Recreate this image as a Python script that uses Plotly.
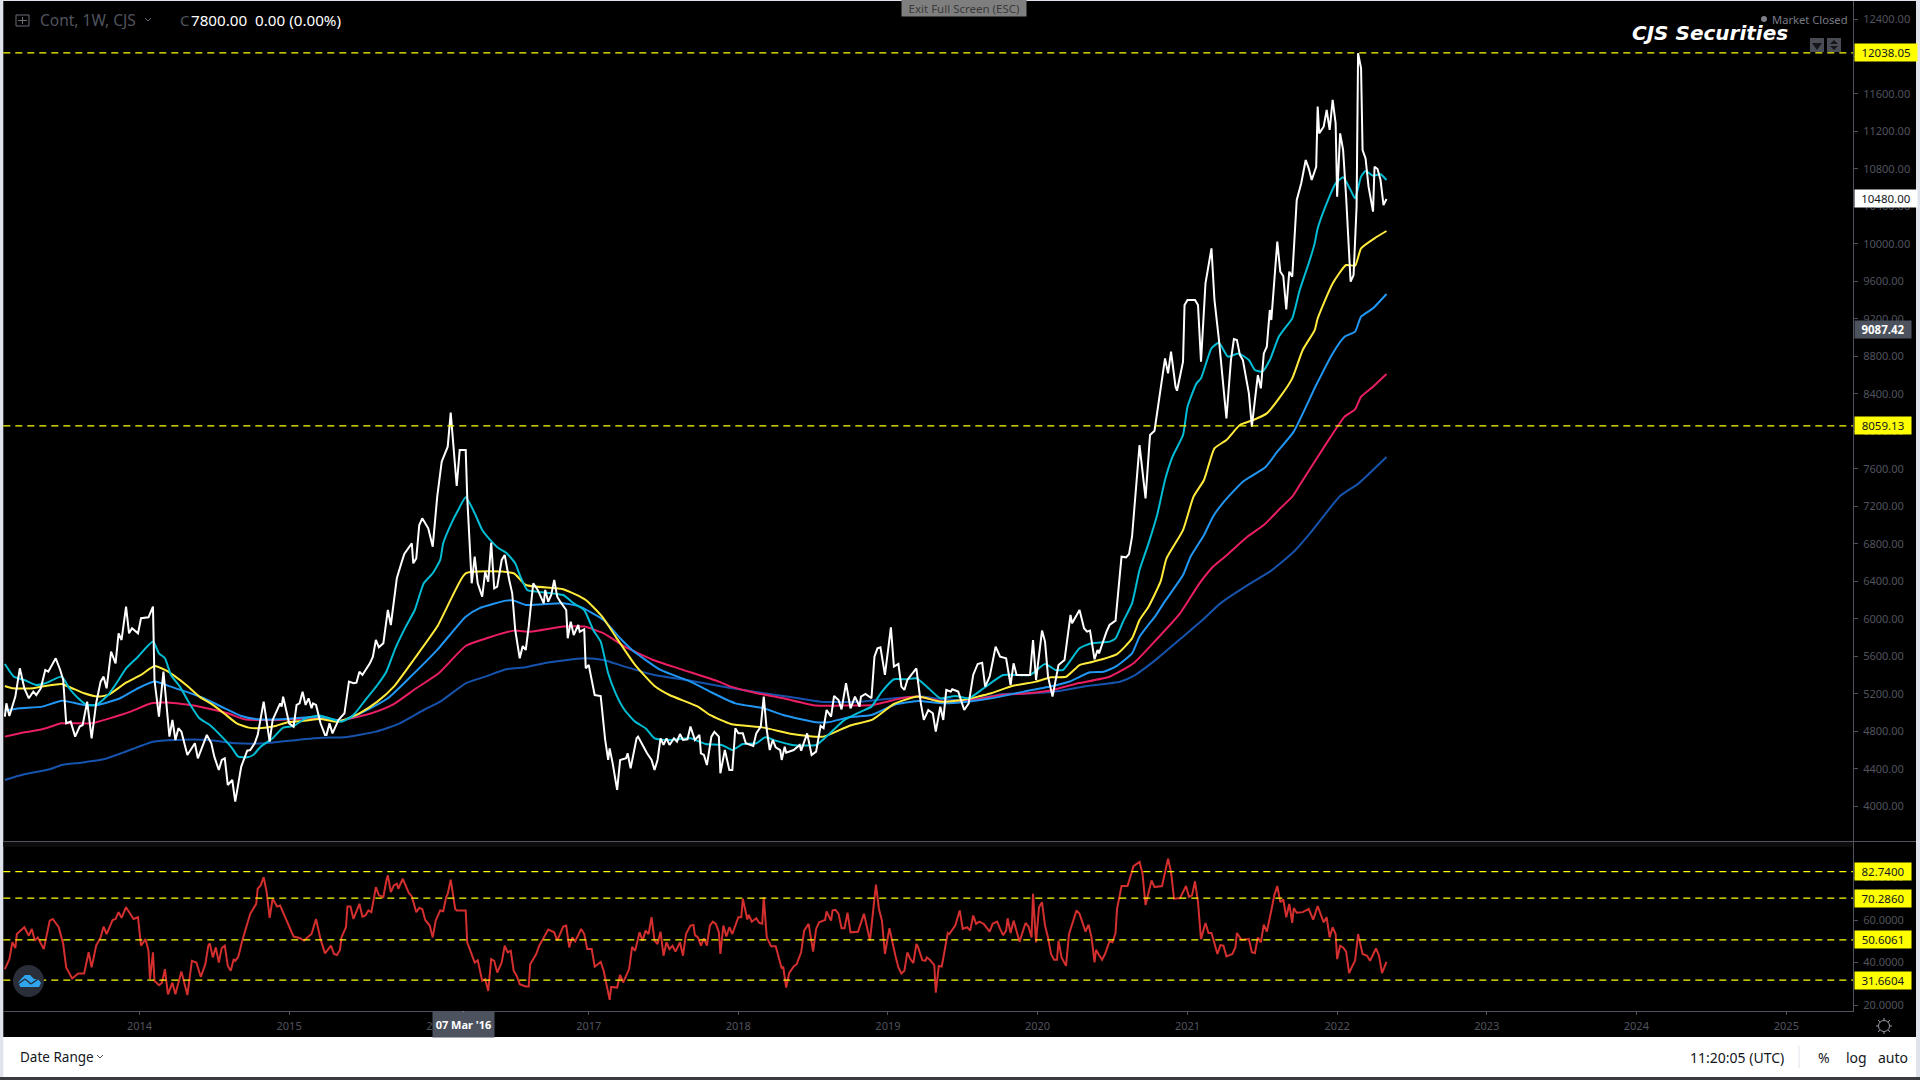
import plotly.graph_objects as go
import pandas as pd

W, H = 1920, 1080

close_years = [2013.10,2013.11,2013.13,2013.17,2013.20,2013.23,2013.26,2013.29,2013.31,2013.34,2013.37,2013.39,2013.44,2013.47,2013.49,2013.51,2013.54,2013.57,2013.60,2013.62,2013.65,2013.68,2013.71,2013.74,2013.76,2013.78,2013.81,2013.84,2013.86,2013.88,2013.91,2013.93,2013.95,2013.99,2014.01,2014.06,2014.09,2014.10,2014.13,2014.16,2014.20,2014.22,2014.24,2014.26,2014.28,2014.32,2014.37,2014.39,2014.45,2014.48,2014.50,2014.53,2014.55,2014.57,2014.59,2014.62,2014.64,2014.68,2014.72,2014.74,2014.77,2014.79,2014.83,2014.87,2014.89,2014.94,2014.95,2014.96,2015.00,2015.03,2015.05,2015.07,2015.09,2015.11,2015.13,2015.15,2015.16,2015.18,2015.21,2015.24,2015.25,2015.27,2015.29,2015.33,2015.37,2015.40,2015.43,2015.45,2015.47,2015.49,2015.54,2015.56,2015.58,2015.60,2015.63,2015.66,2015.68,2015.72,2015.75,
2015.77,2015.82,2015.83,2015.85,2015.87,2015.89,2015.93,2015.96,2015.99,2016.02,2016.06,2016.08,2016.12,2016.14,2016.18,2016.19,2016.21,2016.22,2016.24,2016.26,2016.29,2016.31,2016.33,2016.35,2016.37,2016.39,2016.42,2016.44,2016.47,2016.49,2016.51,2016.53,2016.54,2016.56,2016.58,2016.60,2016.62,2016.63,2016.66,2016.70,2016.71,2016.73,2016.75,2016.77,2016.79,2016.81,2016.85,2016.86,2016.88,2016.90,2016.93,2016.94,2016.97,2016.98,2017.00,2017.02,2017.04,2017.08,2017.11,2017.13,2017.14,2017.16,2017.19,2017.21,2017.25,2017.26,2017.28,2017.32,
2017.33,2017.36,2017.39,2017.42,2017.44,2017.46,2017.48,2017.50,2017.52,2017.54,2017.57,2017.59,2017.61,2017.63,2017.66,2017.68,2017.71,2017.74,2017.75,2017.77,2017.79,2017.82,2017.84,2017.87,2017.88,2017.91,2017.94,2017.96,2017.98,2018.00,2018.03,2018.05,2018.10,2018.12,2018.15,2018.17,2018.19,2018.21,2018.23,2018.25,2018.28,2018.29,2018.31,2018.32,2018.37,2018.41,2018.42,2018.46,2018.49,2018.52,2018.55,2018.57,2018.59,2018.62,2018.64,2018.67,2018.69,2018.72,2018.75,2018.78,2018.81,2018.82,2018.85,2018.89,2018.91,2018.93,2018.95,2018.98,2019.02,2019.04,2019.07,2019.09,2019.11,2019.13,2019.19,2019.22,2019.24,2019.27,2019.30,2019.32,2019.35,2019.37,2019.39,2019.42,2019.43,2019.47,2019.50,2019.51,2019.54,2019.57,2019.60,2019.63,2019.65,2019.68,2019.72,2019.75,2019.79,2019.82,2019.84,2019.86,2019.95,2019.97,2019.99,2020.03,2020.05,2020.07,2020.10,2020.14,2020.18,2020.22,2020.23,2020.28,2020.31,2020.33,2020.35,2020.38,2020.40,2020.41,2020.46,2020.48,2020.52,
2020.54,2020.56,2020.59,2020.61,2020.63,2020.68,2020.72,2020.75,2020.78,2020.85,2020.87,2020.89,2020.92,2020.93,2020.97,2020.98,2021.00,2021.05,2021.07,2021.09,2021.12,2021.16,2021.18,2021.21,2021.26,2021.29,2021.31,2021.33,2021.35,2021.37,2021.41,2021.43,2021.44,2021.47,2021.49,2021.51,2021.53,2021.55,2021.56,2021.60,2021.62,2021.64,2021.66,2021.68,2021.70,2021.72,2021.73,2021.76,2021.79,2021.81,2021.83,2021.86,2021.87,2021.88,2021.91,2021.93,2021.95,2021.97,2021.99,2022.00,2022.02,2022.04,2022.06,2022.09,2022.11,2022.13,2022.14,2022.16,2022.17,2022.19,2022.21,2022.24,2022.25,2022.27,2022.29,2022.31,2022.33]
close_vals = [4956,5098,4963,5170,5472,5259,5152,5223,5187,5259,5454,5436,5579,5454,5347,4885,4903,4743,4850,4867,5116,4725,5098,5330,5383,5259,5650,5525,5845,5774,6130,5845,5899,5845,6006,6016,6130,5347,4956,5436,4743,4921,4707,4832,4796,4547,4672,4512,4761,4672,4529,4387,4494,4512,4227,4280,4049,4423,4593,4600,4672,4761,5116,4689,4921,5098,5063,5170,4885,4850,5081,5098,5223,5081,5152,5045,5098,5081,4885,4761,4761,4885,4778,4921,4992,5330,5312,5319,5436,5401,5525,5596,5774,5696,5739,6094,5934,6432,6592,
6692,6806,6592,6645,7001,7072,6966,6770,7303,7677,7837,8200,7417,7801,7801,7303,6734,6379,6663,6379,6236,6503,6396,6813,6325,6343,6628,6681,6414,6272,5881,5685,5578,5710,5667,5916,6236,6379,6308,6165,6308,6183,6254,6414,6236,6183,6094,5792,5970,5827,5934,5863,5888,5472,5507,5347,5187,5176,4707,4494,4618,4458,4174,4494,4512,4565,4405,4725,
4743,4654,4565,4494,4387,4494,4725,4654,4725,4654,4725,4689,4771,4707,4714,4850,4707,4761,4565,4547,4440,4743,4793,4743,4352,4600,4387,4387,4832,4778,4778,4672,4643,4778,4850,5170,4814,4600,4707,4629,4600,4494,4636,4572,4600,4654,4593,4778,4547,4583,4857,4832,5027,4956,5177,5134,5034,5312,5045,5170,5063,5170,5198,5152,5596,5685,5696,5401,5909,5490,5518,5276,5241,5347,5472,5098,4921,5027,4992,4796,5063,4921,5241,5223,5248,5223,5063,5027,5098,5401,5518,5532,5276,5383,5703,5596,5579,5294,5525,5401,5401,5774,5347,5874,5757,5383,5170,5508,5561,6041,5952,6094,5899,5863,5874,5568,5668,5632,5863,5934,5981,
6307,6663,6656,6691,6876,7854,7285,7961,8007,8779,8619,8850,8477,8434,8743,9348,9402,9402,9348,8743,9579,9953,9402,8975,8139,8761,8985,8975,8815,8761,8406,8050,8192,8601,8459,8832,8904,9295,9188,10024,9704,9658,9302,9704,9651,10291,10469,10647,10895,10807,10682,10824,11465,11180,11251,11429,11216,11536,11287,10504,11180,11002,10504,9597,9668,10398,12034,11874,11002,10913,10611,10344,10824,10799,10682,10415,10480]

teal_years = [2013.10,2013.16,2013.23,2013.31,2013.37,2013.48,2013.53,2013.59,2013.65,2013.71,2013.79,2013.86,2013.91,2013.99,2014.09,2014.13,2014.17,2014.21,2014.27,2014.34,2014.40,2014.47,2014.55,2014.62,2014.66,2014.72,2014.76,2014.81,2014.89,2014.96,2015.03,2015.11,2015.21,2015.29,2015.35,2015.43,2015.51,2015.59,2015.65,2015.71,2015.78,2015.84,2015.90,2015.96,2016.01,2016.03,2016.09,2016.13,2016.18,2016.24,2016.29,2016.34,2016.40,2016.45,2016.51,2016.54,2016.59,2016.65,2016.72,2016.83,2016.90,2016.97,2017.03,2017.08,2017.13,2017.18,2017.24,2017.31,2017.38,2017.44,2017.54,2017.68,2017.78,2017.89,2017.96,2018.03,2018.12,2018.18,2018.25,2018.36,2018.52,2018.60,2018.71,2018.82,2018.89,2018.96,2019.04,2019.12,2019.19,2019.26,2019.35,2019.45,2019.54,2019.64,2019.77,2019.95,2020.05,2020.12,2020.17,2020.28,2020.36,2020.48,2020.52,2020.57,2020.63,2020.68,2020.74,2020.80,2020.85,2020.90,2020.97,2021.00,2021.06,2021.09,2021.16,2021.21,2021.27,2021.34,2021.41,2021.45,2021.50,2021.55,2021.61,2021.65,2021.70,2021.75,2021.81,2021.85,2021.87,2021.93,2021.99,2022.04,2022.09,2022.12,2022.16,2022.19,2022.24,2022.29,2022.33]
teal_vals = [5518,5383,5347,5294,5312,5383,5259,5152,5081,5081,5187,5347,5472,5596,5757,5632,5579,5401,5276,5081,4938,4867,4743,4618,4529,4522,4547,4636,4725,4839,4857,4938,4967,4928,4903,4974,5134,5294,5436,5685,5917,6094,6379,6486,6628,6806,7037,7161,7296,7126,6948,6848,6752,6706,6592,6468,6308,6290,6279,6254,6165,6094,5881,5757,5419,5205,5027,4903,4832,4725,4707,4725,4664,4654,4600,4664,4672,4736,4700,4654,4654,4761,4921,5010,5063,5223,5355,5355,5365,5276,5152,5177,5152,5259,5401,5401,5518,5454,5454,5685,5739,5757,5791,5969,6165,6520,6805,7125,7481,7730,7961,8263,8512,8566,8886,8946,8797,8832,8761,8655,8637,8761,9010,9099,9206,9508,9793,10006,10166,10433,10647,10711,10575,10486,10718,10778,10728,10743,10682]

yellow_years = [2013.10,2013.15,2013.29,2013.37,2013.48,2013.55,2013.63,2013.72,2013.79,2013.91,2014.01,2014.10,2014.17,2014.24,2014.32,2014.40,2014.49,2014.57,2014.65,2014.73,2014.80,2014.91,2014.98,2015.09,2015.21,2015.33,2015.47,2015.59,2015.70,2015.84,2015.99,2016.09,2016.18,2016.50,2016.58,2016.83,2016.98,2017.09,2017.18,2017.31,2017.44,2017.54,2017.73,2017.81,2017.95,2018.17,2018.36,2018.57,2018.74,2018.90,2019.04,2019.20,2019.35,2019.50,2019.69,2019.83,2019.99,2020.09,2020.19,2020.28,2020.37,2020.53,2020.63,2020.68,2020.74,2020.82,2020.86,2020.97,2021.04,2021.11,2021.18,2021.26,2021.35,2021.44,2021.53,2021.62,2021.70,2021.77,2021.85,2021.87,2021.97,2022.06,2022.12,2022.16,2022.25,2022.33]
yellow_vals = [5283,5259,5259,5283,5305,5259,5205,5170,5187,5319,5401,5497,5454,5383,5283,5170,5081,4985,4885,4839,4832,4857,4892,4910,4931,4903,4992,5116,5276,5579,5917,6237,6486,6486,6361,6315,6201,6023,5810,5508,5283,5187,5063,4974,4878,4839,4771,4743,4857,4928,5091,5170,5116,5134,5205,5283,5330,5376,5382,5507,5542,5624,5791,5987,6129,6396,6645,6947,7303,7481,7819,7908,8068,8121,8192,8370,8566,8868,9081,9206,9579,9775,9768,9953,10060,10138]

blue_years = [2013.10,2013.20,2013.35,2013.48,2013.63,2013.72,2013.87,2013.99,2014.10,2014.21,2014.43,2014.57,2014.68,2014.79,2014.98,2015.20,2015.36,2015.52,2015.66,2015.79,2015.99,2016.18,2016.27,2016.45,2016.50,2016.58,2016.83,2016.94,2017.10,2017.21,2017.29,2017.48,2017.68,2017.81,2017.98,2018.17,2018.30,2018.52,2018.60,2018.74,2018.89,2019.04,2019.20,2019.37,2019.53,2019.69,2019.91,2020.10,2020.21,2020.35,2020.44,2020.52,2020.63,2020.68,2020.79,2020.84,2020.97,2021.02,2021.11,2021.17,2021.24,2021.37,2021.52,2021.60,2021.71,2021.86,2021.97,2022.05,2022.12,2022.16,2022.24,2022.33]
blue_vals = [5020,5045,5063,5127,5081,5081,5152,5259,5330,5276,5152,5045,4963,4928,4931,4956,4914,5027,5152,5347,5668,6023,6112,6194,6194,6148,6166,6130,5988,5792,5668,5454,5330,5223,5098,5045,4974,4896,4896,4949,4974,5081,5123,5098,5116,5152,5223,5283,5329,5429,5436,5489,5631,5809,6040,6165,6467,6663,6894,7090,7243,7463,7616,7783,7997,8494,8832,9010,9064,9224,9313,9466]

pink_years = [2013.10,2013.23,2013.35,2013.48,2013.68,2013.80,2013.94,2014.08,2014.19,2014.38,2014.59,2014.70,2014.92,2015.18,2015.34,2015.55,2015.69,2015.85,2016.00,2016.18,2016.34,2016.50,2016.61,2016.83,2016.97,2017.10,2017.24,2017.34,2017.43,2017.62,2017.87,2017.95,2018.11,2018.30,2018.52,2018.68,2018.90,2019.09,2019.20,2019.37,2019.56,2019.76,2019.94,2020.10,2020.27,2020.48,2020.64,2020.79,2020.95,2021.08,2021.17,2021.25,2021.40,2021.51,2021.62,2021.70,2021.75,2021.95,2022.05,2022.12,2022.16,2022.24,2022.33]
pink_vals = [4743,4789,4821,4885,4885,4938,5010,5098,5106,5070,4992,4928,4921,4938,4914,4992,5081,5259,5419,5710,5803,5874,5863,5917,5917,5845,5703,5625,5561,5461,5330,5276,5212,5152,5074,5074,5081,5152,5170,5116,5134,5187,5205,5241,5312,5382,5525,5774,6058,6378,6556,6663,6876,7001,7179,7303,7428,7925,8157,8235,8370,8477,8612]

navy_years = [2013.10,2013.23,2013.40,2013.48,2013.61,2013.76,2013.89,2014.09,2014.24,2014.46,2014.65,2014.84,2015.00,2015.22,2015.37,2015.58,2015.74,2015.90,2016.01,2016.18,2016.31,2016.45,2016.58,2016.72,2016.97,2017.10,2017.24,2017.44,2017.68,2017.92,2018.17,2018.36,2018.55,2018.82,2019.04,2019.23,2019.37,2019.56,2019.77,2019.97,2020.16,2020.33,2020.55,2020.65,2020.80,2020.97,2021.10,2021.22,2021.42,2021.55,2021.71,2021.82,2022.02,2022.14,2022.33]
navy_vals = [4280,4341,4394,4440,4465,4501,4572,4689,4707,4707,4672,4672,4700,4732,4736,4796,4885,5027,5116,5312,5383,5461,5483,5532,5579,5561,5490,5401,5340,5269,5205,5163,5116,5116,5152,5170,5141,5134,5198,5205,5233,5283,5329,5400,5578,5809,5987,6165,6378,6503,6716,6915,7310,7440,7726]

rsi_years = [2013.10,2013.13,2013.15,2013.17,2013.18,2013.23,2013.26,2013.28,2013.30,2013.32,2013.36,2013.40,2013.42,2013.46,2013.49,2013.51,2013.55,2013.59,2013.63,2013.66,2013.68,2013.71,2013.74,2013.76,2013.78,2013.82,2013.84,2013.86,2013.88,2013.91,2013.96,2013.99,2014.01,2014.04,2014.06,2014.07,2014.09,2014.10,2014.13,2014.15,2014.17,2014.19,2014.22,2014.24,2014.28,2014.32,2014.35,2014.38,2014.41,2014.44,2014.46,2014.47,2014.49,2014.51,2014.53,2014.55,2014.57,2014.59,2014.61,2014.63,2014.64,2014.66,2014.69,2014.74,2014.78,2014.79,2014.81,2014.83,2014.85,2014.87,2014.89,2014.92,2014.94,2014.98,2015.03,2015.07,2015.10,2015.13,2015.15,2015.18,2015.21,2015.24,2015.28,2015.30,2015.32,2015.34,2015.35,2015.38,2015.39,2015.41,2015.43,2015.47,2015.49,2015.51,2015.53,2015.55,2015.58,2015.60,2015.63,2015.65,2015.66,2015.68,2015.70,2015.72,2015.73,2015.76,2015.80,2015.82,2015.85,2015.87,2015.89,2015.91,2015.94,2015.96,2015.98,2016.01,2016.03,2016.05,2016.06,2016.08,2016.11,2016.12,2016.18,2016.19,2016.22,2016.24,2016.26,2016.29,2016.31,2016.33,2016.35,2016.37,2016.39,2016.42,2016.44,2016.46,2016.48,2016.50,2016.52,2016.54,2016.58,2016.60,2016.61,2016.65,2016.67,2016.73,2016.77,2016.79,2016.83,2016.85,2016.87,2016.89,2016.91,2016.95,2016.97,2016.99,2017.02,2017.04,2017.08,2017.10,2017.14,2017.15,2017.19,2017.21,2017.23,2017.27,2017.29,2017.31,2017.34,
2017.36,2017.38,2017.40,2017.42,2017.44,2017.46,2017.48,2017.50,2017.52,2017.54,2017.56,2017.58,2017.61,2017.63,2017.65,2017.68,2017.70,2017.71,2017.73,2017.75,2017.77,2017.79,2017.81,2017.83,2017.85,2017.87,2017.88,2017.90,2017.92,2017.94,2017.96,2018.00,2018.02,2018.03,2018.06,2018.07,2018.09,2018.12,2018.14,2018.16,2018.17,2018.19,2018.22,2018.25,2018.29,2018.30,2018.32,2018.34,2018.37,2018.39,2018.42,2018.44,2018.46,2018.47,2018.50,2018.52,2018.54,2018.58,2018.59,2018.62,2018.63,2018.65,2018.67,2018.69,2018.71,2018.73,2018.75,2018.80,2018.84,2018.88,2018.92,2018.94,2018.96,2018.98,2019.01,2019.04,2019.05,2019.07,2019.09,2019.11,2019.13,2019.15,2019.17,2019.19,2019.20,2019.23,2019.25,2019.26,2019.28,2019.31,2019.32,2019.34,2019.36,2019.40,2019.41,2019.45,2019.48,2019.50,2019.53,2019.55,2019.57,2019.59,2019.61,2019.64,2019.68,2019.70,2019.73,2019.75,
2019.77,2019.79,2019.80,2019.82,2019.84,2019.88,2019.92,2019.94,2019.96,2019.97,2019.99,2020.01,2020.03,2020.05,2020.07,2020.09,2020.11,2020.13,2020.14,2020.16,2020.19,2020.21,2020.23,2020.26,2020.28,2020.32,2020.34,2020.36,2020.38,2020.39,2020.41,2020.43,2020.45,2020.48,2020.50,2020.52,2020.53,2020.56,2020.60,2020.64,2020.68,2020.70,2020.72,2020.76,2020.78,2020.83,2020.87,2020.89,2020.91,2020.95,2020.99,2021.01,2021.03,2021.05,2021.07,2021.09,2021.12,2021.14,2021.16,2021.20,2021.22,2021.24,2021.26,2021.30,2021.32,2021.33,2021.36,2021.41,2021.43,2021.45,2021.47,2021.49,2021.51,2021.53,2021.56,2021.58,2021.60,2021.62,2021.64,2021.66,2021.68,2021.70,2021.71,2021.73,2021.77,2021.81,2021.84,2021.87,2021.91,2021.93,2021.95,2021.97,2021.99,2022.00,2022.02,2022.04,2022.06,2022.08,2022.10,2022.12,2022.14,2022.17,2022.20,2022.22,2022.26,2022.28,2022.30,2022.33]
rsi_vals = [36.9,41.6,49.5,46.8,53.4,56.6,52.6,55.8,50.3,51.8,46.3,59.7,60.5,56.6,48.7,37.7,32.5,34.8,34.8,44.8,37.7,47.9,51.8,56.9,53.4,60.0,60.5,63.7,61.0,66.0,60.5,61.3,47.9,51.0,45.5,32.1,44.8,31.4,29.3,30.5,36.9,25.0,30.5,25.0,35.8,24.7,40.8,40.0,33.2,39.2,47.9,49.0,42.4,47.1,40.0,46.8,47.9,38.4,36.1,41.6,40.8,42.7,51.0,62.9,67.6,74.7,76.3,80.2,73.1,61.0,70.0,66.3,66.8,60.5,52.2,51.5,50.3,52.2,53.4,60.5,51.0,44.3,47.9,44.0,43.5,45.9,51.8,56.6,66.3,66.3,60.5,67.6,61.6,62.1,64.5,63.7,75.5,71.6,70.8,78.6,81.0,73.1,76.3,77.1,74.7,79.4,72.7,71.1,63.7,65.7,65.2,60.0,57.4,51.8,59.7,64.5,64.1,70.8,72.3,79.0,65.2,64.5,64.5,49.5,43.2,40.0,41.1,31.4,32.1,26.6,41.6,40.8,35.3,40.0,47.9,44.8,45.5,36.1,33.7,29.8,28.7,28.7,39.2,44.0,47.9,55.5,54.2,50.3,56.9,57.4,47.1,51.8,50.0,55.8,53.4,46.3,46.3,38.0,40.3,36.1,22.4,28.5,28.2,34.2,30.6,36.9,47.4,45.5,54.2,
50.3,55.0,53.4,61.3,50.3,48.7,54.5,43.2,49.5,46.3,47.9,45.1,49.5,43.2,53.4,57.4,57.7,52.9,51.8,47.9,51.4,47.9,57.4,59.2,58.2,54.2,44.0,57.4,52.3,56.6,53.4,61.3,61.3,70.0,60.2,62.4,59.2,60.8,58.6,58.2,70.8,51.8,47.6,47.6,37.2,38.0,28.2,35.0,38.1,39.2,44.8,55.0,57.4,58.2,45.1,55.8,58.9,60.0,64.0,59.7,64.5,64.8,62.9,56.1,56.1,63.4,54.2,54.5,62.9,50.3,76.6,65.2,59.7,44.0,56.1,45.5,43.2,37.7,34.8,36.1,44.8,41.6,39.7,48.7,47.6,41.1,40.8,42.4,41.3,38.8,25.8,38.4,38.1,53.9,53.4,57.4,64.5,55.8,56.6,55.0,62.1,58.2,59.2,58.2,54.5,58.2,59.2,55.8,
52.9,55.0,60.8,53.9,59.7,49.8,58.6,56.9,51.8,72.3,49.5,66.0,68.4,57.4,51.8,44.0,41.3,41.3,50.3,42.4,38.4,53.4,58.2,64.5,62.9,54.5,57.8,51.8,40.0,46.0,43.5,41.3,44.0,50.0,49.5,53.9,65.2,76.0,76.0,85.3,87.3,81.8,67.1,78.6,75.5,76.0,88.9,82.6,70.0,70.3,76.0,70.8,71.6,78.2,68.4,51.0,58.6,53.9,53.9,44.0,48.2,47.9,42.9,44.0,47.1,53.9,50.7,51.0,44.8,44.4,51.8,49.5,57.8,54.5,64.5,71.6,76.0,68.4,69.7,61.3,67.6,58.6,65.6,63.4,63.7,65.2,60.2,66.5,58.9,61.3,51.8,56.6,53.4,41.6,47.9,47.1,45.1,35.0,38.1,40.8,53.4,44.0,43.2,40.8,46.6,43.2,35.0,40.3]

price_levels = [12038.05, 8059.13]
rsi_levels = [82.74, 70.286, 50.6061, 31.6604]
year_ticks = list(range(2014, 2026))
price_ticks = list(range(4000, 12800, 400))
rsi_ticks = [20, 40, 60, 80]


def to_dates(years):
    out = []
    for y in years:
        base = int(y)
        start = pd.Timestamp(year=base, month=1, day=1)
        end = pd.Timestamp(year=base + 1, month=1, day=1)
        out.append(start + (end - start) * (y - base))
    return out


def px(x):
    return x / W


def py(y):
    return 1 - y / H


GRID = "#50535e"
UI = "Noto Sans"
fig = go.Figure()

series = [
    (navy_years, navy_vals, "#1653ad"),
    (pink_years, pink_vals, "#e91e63"),
    (blue_years, blue_vals, "#2196f3"),
    (yellow_years, yellow_vals, "#ffeb3b"),
    (teal_years, teal_vals, "#00bcd4"),
]
for xs, ys, color in series:
    fig.add_trace(go.Scatter(x=to_dates(xs), y=ys, mode="lines", yaxis="y",
                             line=dict(color=color, width=2, shape="spline", smoothing=0.5),
                             hoverinfo="skip"))
fig.add_trace(go.Scatter(x=to_dates(close_years), y=close_vals, mode="lines", yaxis="y",
                         line=dict(color="#ffffff", width=2), hoverinfo="skip"))
fig.add_trace(go.Scatter(x=to_dates(rsi_years), y=rsi_vals, mode="lines", yaxis="y2",
                         line=dict(color="#d32f2f", width=2), hoverinfo="skip"))

shapes = []


def rect(x0, y0, x1, y1, color, layer="below"):
    shapes.append(dict(type="rect", xref="paper", yref="paper", x0=px(x0), x1=px(x1),
                       y0=py(y1), y1=py(y0), fillcolor=color, line=dict(width=0), layer=layer))


def seg(x0, y0, x1, y1, color, width=1.0):
    shapes.append(dict(type="line", xref="paper", yref="paper", x0=px(x0), x1=px(x1),
                       y0=py(y0), y1=py(y1), line=dict(color=color, width=width), layer="above"))


rect(3.3, 1, 1916, 1037, "#000000")
rect(3.3, 1037, 1916, 1077, "#ffffff")
rect(0, 1077, 1920, 1080, "#3a3b3f")
rect(3.3, 842, 1853, 847, "#0c0c0c")
seg(3.3, 841.5, 1916, 841.5, GRID)

for lvl in price_levels:
    shapes.append(dict(type="line", xref="x domain", yref="y", x0=0, x1=1, y0=lvl, y1=lvl,
                       line=dict(color="#ffff00", width=1.3, dash="7px,5px"), layer="above"))
for lvl in rsi_levels:
    shapes.append(dict(type="line", xref="x domain", yref="y2", x0=0, x1=1, y0=lvl, y1=lvl,
                       line=dict(color="#ffff00", width=1.3, dash="7px,5px"), layer="above"))

# time cursor tick
seg(463, 1011, 463, 1015, "#ffffff")
# crosshair-style box icon at top left
shapes.append(dict(type="rect", xref="paper", yref="paper", x0=px(16), x1=px(29), y0=py(26), y1=py(15),
                   line=dict(color="#6a6d78", width=1), fillcolor="rgba(0,0,0,0)", layer="above"))
seg(22.5, 17, 22.5, 24, "#6a6d78")
seg(18, 20.5, 27, 20.5, "#6a6d78")
# chevrons
seg(145, 18, 148, 21, "#6a6d78")
seg(148, 21, 151, 18, "#6a6d78")
seg(97, 1055, 100, 1058, "#50535e")
seg(100, 1058, 103, 1055, "#50535e")
# toolbar separator
seg(1799, 1046, 1799, 1068, "#e0e3eb")
# market dot and pane handles
shapes.append(dict(type="circle", xref="paper", yref="paper", x0=px(1761), x1=px(1767), y0=py(22), y1=py(16),
                   fillcolor="#7d7f86", line=dict(width=0), layer="above"))
rect(1810, 38, 1824, 52, "#4a4c55", "above")
rect(1827, 38, 1841, 52, "#4a4c55", "above")
shapes.append(dict(type="path", xref="paper", yref="paper",
                   path=f"M {px(1812)} {py(43)} L {px(1822)} {py(43)} L {px(1817)} {py(50)} Z",
                   fillcolor="#15161a", line=dict(width=0), layer="above"))
shapes.append(dict(type="path", xref="paper", yref="paper",
                   path=f"M {px(1830)} {py(44)} L {px(1838)} {py(44)} L {px(1834)} {py(40)} Z M {px(1830)} {py(46)} L {px(1838)} {py(46)} L {px(1834)} {py(50)} Z",
                   fillcolor="#15161a", line=dict(width=0), layer="above"))
# round logo with cloud
shapes.append(dict(type="circle", xref="paper", yref="paper", x0=px(13), x1=px(44), y0=py(997), y1=py(965),
                   fillcolor="#2a2e39", line=dict(width=0), layer="above"))
shapes.append(dict(type="path", xref="paper", yref="paper",
                   path=(f"M {px(20)} {py(986)} L {px(18)} {py(983)} L {px(21)} {py(979)} L {px(25)} {py(975)} "
                         f"L {px(30)} {py(975)} L {px(34)} {py(979)} L {px(38)} {py(979)} L {px(41)} {py(983)} "
                         f"L {px(39)} {py(987)} L {px(20)} {py(987)} Z"),
                   fillcolor="#2ea5ec", line=dict(width=0), layer="above"))
for a, b, c, d in [(18, 984, 25, 979), (25, 979, 31, 984), (31, 984, 38, 979)]:
    seg(a, b, c, d, "#2a2e39", 1.5)
# settings icon
shapes.append(dict(type="circle", xref="paper", yref="paper", x0=px(1878.5), x1=px(1889.5), y0=py(1031.5), y1=py(1020.5),
                   line=dict(color="#9a9ca3", width=1), fillcolor="rgba(0,0,0,0)", layer="above"))
for a, b, c, d in [(1884, 1018, 1884, 1020), (1884, 1032, 1884, 1034), (1876, 1026, 1878, 1026),
                   (1890, 1026, 1892, 1026), (1878, 1020, 1880, 1022), (1888, 1030, 1890, 1032),
                   (1878, 1032, 1880, 1030), (1888, 1022, 1890, 1020)]:
    seg(a, b, c, d, "#9a9ca3")

annotations = []


def text(x, y, s, size=12, color="#000000", anchor="left", family=UI, **kw):
    annotations.append(dict(xref="paper", yref="paper", x=px(x), y=py(y), text=s, showarrow=False,
                            xanchor=anchor, yanchor="middle", font=dict(size=size, color=color, family=family),
                            borderpad=0, **kw))


def price_tag(yref, value, label, bg, fg, width, bold=False):
    annotations.append(dict(xref="paper", yref=yref, x=px(1854), y=value,
                            text=f"<b>{label}</b>" if bold else label, showarrow=False,
                            xanchor="left", yanchor="middle", width=width, height=17, align="center",
                            bgcolor=bg, font=dict(size=11.5, color=fg, family=UI), borderpad=0))


price_tag("y", price_levels[0], "12038.05", "#ffff00", "#131722", 62)
price_tag("y", 10480, "10480.00", "#ffffff", "#131722", 62)
price_tag("y", 9087.42, "9087.42", "#4c525e", "#ffffff", 56, bold=True)
price_tag("y", price_levels[1], "8059.13", "#ffff00", "#131722", 56)
for lvl, label in zip(rsi_levels, ["82.7400", "70.2860", "50.6061", "31.6604"]):
    price_tag("y2", lvl, label, "#ffff00", "#131722", 56)

text(39, 20, "Cont, 1W, CJS", 15.5, "#50535e")
text(179, 20, "C", 15, "#50535e")
text(190, 20, "7800.00&nbsp;&nbsp;0.00 (0.00%)", 15.2, "#ffffff")
text(1771, 19, "Market Closed", 11.2, "#787b86")
text(1631, 33, "<b><i>CJS Securities</i></b>", 20, "#ffffff", family="DejaVu Sans")
text(1689, 1057, "11:20:05 (UTC)", 14, "#131722")
text(1817, 1057, "%", 14, "#131722")
text(1845, 1057, "log", 14, "#131722")
text(1877, 1057, "auto", 14, "#131722")
text(19, 1057, "Date Range", 13.5, "#131722")
annotations.append(dict(xref="paper", yref="paper", x=px(964), y=py(8), text="Exit Full Screen (ESC)", showarrow=False,
                        xanchor="center", yanchor="middle", width=124, height=16, align="center", bgcolor="#7f7f7f",
                        font=dict(size=11.5, color="#3a3a3a", family=UI), borderpad=0))
annotations.append(dict(xref="paper", yref="paper", x=px(463), y=py(1024.5), text="<b>07 Mar '16</b>", showarrow=False,
                        xanchor="center", yanchor="middle", width=61, height=25, align="center", bgcolor="#4c525e",
                        font=dict(size=11, color="#ffffff", family=UI), borderpad=0))

year_span_left = 2014 + (3.3 - 139.6) / 149.7
year_span_right = 2014 + (1853 - 139.6) / 149.7

fig.update_layout(
    width=W, height=H, margin=dict(l=0, r=0, t=0, b=0), showlegend=False,
    paper_bgcolor="#e0e3eb", plot_bgcolor="rgba(0,0,0,0)",
    shapes=shapes, annotations=annotations,
    xaxis=dict(domain=[px(3.3), px(1853)], anchor="y2", range=to_dates([year_span_left, year_span_right]),
               type="date", tickvals=to_dates([float(y) for y in year_ticks]),
               ticktext=[str(y) for y in year_ticks], showgrid=False, zeroline=False,
               showline=True, linecolor=GRID, linewidth=1, ticks="outside", ticklen=3, tickcolor=GRID,
               tickfont=dict(size=11, color="#50535e", family=UI), ticklabelstandoff=2),
    yaxis=dict(domain=[py(841), py(1)], anchor="x", side="right",
               range=[12400 - (841 - 19) * 10.67, 12400 + (19 - 1) * 10.67],
               tickvals=price_ticks, tickformat=".2f", showgrid=False, zeroline=False,
               showline=True, linecolor=GRID, linewidth=1, ticks="outside", ticklen=4, tickcolor=GRID,
               tickfont=dict(size=11, color="#50535e", family=UI), ticklabelstandoff=3),
    yaxis2=dict(domain=[py(1011), py(842)], anchor="x", side="right",
                range=[60 - (1011 - 920) / 2.125, 60 + (920 - 842) / 2.125],
                tickvals=rsi_ticks, tickformat=".4f", showgrid=False, zeroline=False,
                showline=True, linecolor=GRID, linewidth=1, ticks="outside", ticklen=4, tickcolor=GRID,
                tickfont=dict(size=11, color="#50535e", family=UI), ticklabelstandoff=3),
)

fig.write_html("out.html", config=dict(displayModeBar=False),
               post_script="document.body.style.margin='0';document.body.style.background='#e0e3eb';")
